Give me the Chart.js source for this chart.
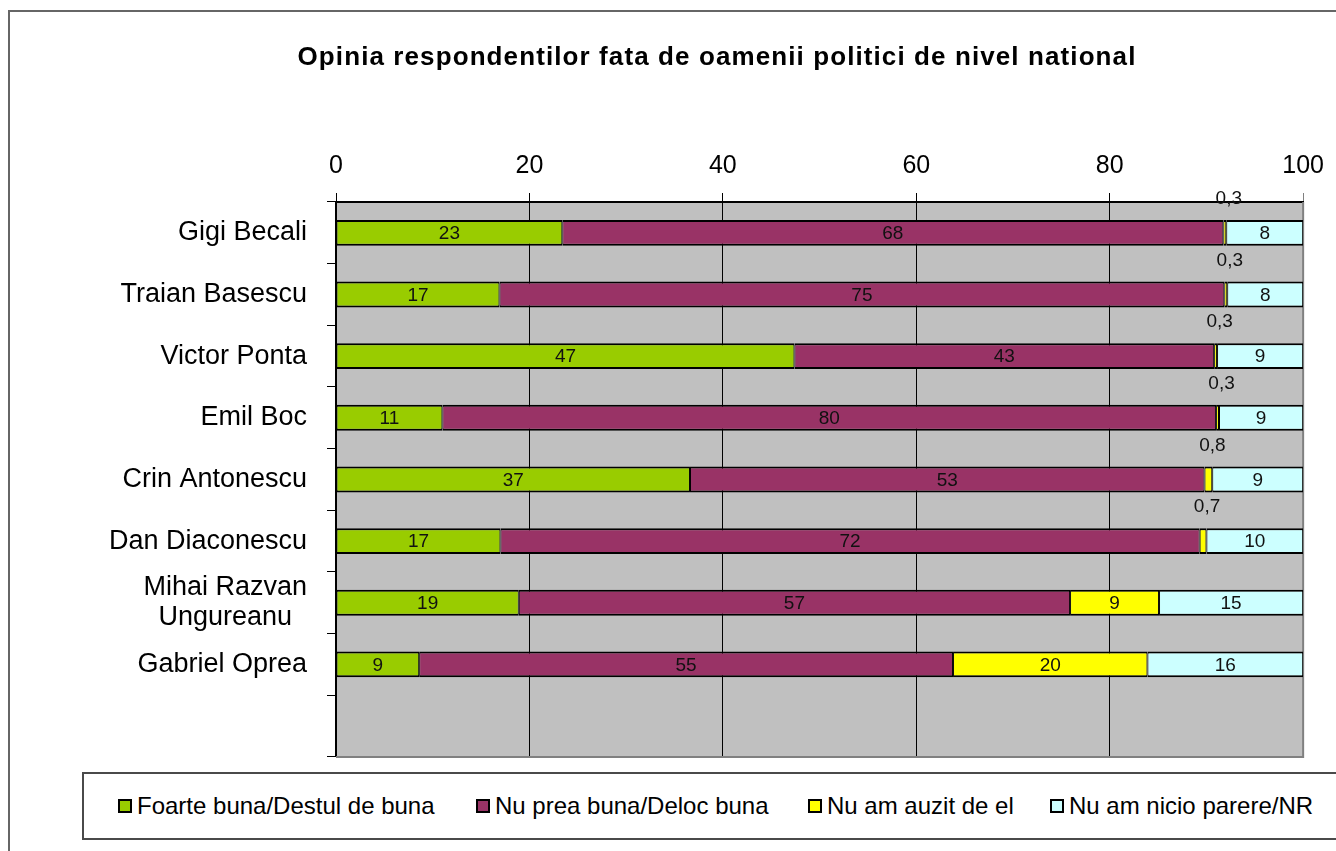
<!DOCTYPE html>
<html><head><meta charset="utf-8">
<script src="https://cdn.jsdelivr.net/npm/chart.js@4"></script>
<style>
body{margin:0;background:#fff;width:1336px;height:851px;overflow:hidden;position:relative;font-family:"Liberation Sans",Arial,sans-serif;}
#frame{position:absolute;left:8px;top:10px;width:1400px;height:900px;border:2px solid #666;box-sizing:border-box;}
#wrap{position:absolute;left:0;top:0;width:1336px;height:792px;}
#legend{position:absolute;left:82px;top:772px;width:1300px;height:68px;border:2px solid #4a4a4a;box-sizing:border-box;background:#fff;}
.li{position:absolute;top:0;height:100%;display:flex;align-items:center;font-size:24px;color:#000;white-space:nowrap;}
.sw{width:14px;height:14px;border:2px solid #000;box-sizing:border-box;margin-right:5px;}
</style></head>
<body>
<div id="frame"></div>
<div id="wrap"><canvas id="c"></canvas></div>
<div id="legend"></div>
<script>
const chartTitle = 'Opinia respondentilor fata de oamenii politici de nivel national';
const categories = ['Gigi Becali','Traian Basescu','Victor Ponta','Emil Boc','Crin Antonescu','Dan Diaconescu',['Mihai Razvan','Ungureanu  '],'Gabriel Oprea',''];
const seriesNames = ['Foarte buna/Destul de buna','Nu prea buna/Deloc buna','Nu am auzit de el','Nu am nicio parere/NR'];
const foarteBuna = [23.4,16.9,47.4,11.0,36.6,17.0,18.9,8.6,null];
const nuPreaBuna = [68.35,74.95,43.4,80.0,53.2,72.3,57.0,55.2,null];
const nuAmAuzit  = [0.3,0.3,0.3,0.3,0.8,0.7,9.2,20.1,null];
const nuAmParere = [7.95,7.85,8.9,8.7,9.4,10.0,14.9,16.1,null];
const xTicks = [0,20,40,60,80,100];
const colors = ['#99CC00','#993366','#FFFF00','#CCFFFF'];
const legendLefts = [34,392,724,966];

const FONT = '"Liberation Sans", Arial, sans-serif';
function fmt(v){ return v < 1 ? v.toFixed(1).replace('.', ',') : String(Math.round(v)); }

const bgPlugin = {
  id:'bg',
  beforeDraw(chart){
    const a = chart.chartArea, ctx = chart.ctx;
    ctx.save(); ctx.fillStyle = '#C0C0C0';
    ctx.fillRect(a.left, a.top, a.right - a.left, a.bottom - a.top);
    ctx.restore();
  },
  beforeDatasetsDraw(chart){
    const a = chart.chartArea, ctx = chart.ctx;
    ctx.save(); ctx.strokeStyle = '#808080'; ctx.lineWidth = 2;
    ctx.beginPath(); ctx.moveTo(a.left, a.bottom); ctx.lineTo(a.right, a.bottom); ctx.lineTo(a.right, a.top); ctx.stroke();
    ctx.restore();
  },
  afterDraw(chart){
    const ctx = chart.ctx; ctx.save();
    ctx.font = 'bold 26px ' + FONT; ctx.fillStyle = '#000';
    ctx.textAlign = 'center'; ctx.textBaseline = 'middle';
    if ('letterSpacing' in ctx) ctx.letterSpacing = '1.1px';
    ctx.fillText(chartTitle, 717, 58);
    ctx.restore();
  }
};
const labelPlugin = {
  id:'vals',
  afterDatasetsDraw(chart){
    const ctx = chart.ctx; ctx.save();
    ctx.font = '19px ' + FONT; ctx.fillStyle = '#111'; ctx.textAlign = 'center'; ctx.textBaseline = 'middle';
    chart.data.datasets.forEach((ds,i)=>{
      const meta = chart.getDatasetMeta(i);
      meta.data.forEach((el,j)=>{
        const v = ds.data[j]; if (v == null) return;
        const p = el.getProps(['x','base','y'], true);
        const cx = (p.x + p.base) / 2;
        if (v < 1) ctx.fillText(fmt(v), cx + 4, p.y - 34);
        else ctx.fillText(fmt(v), cx, p.y + 1);
      });
    });
    ctx.restore();
  }
};

const seriesData = [foarteBuna, nuPreaBuna, nuAmAuzit, nuAmParere];
const chart = new Chart(document.getElementById('c'), {
  type:'bar',
  data:{
    labels: categories,
    datasets: seriesNames.map((n,i)=>({
      label:n, data:seriesData[i], backgroundColor:colors[i], borderColor:'#000',
      borderWidth:{top:2,bottom:2,left:1,right:1}, borderSkipped:false,
      barPercentage:0.42, categoryPercentage:1
    }))
  },
  options:{
    indexAxis:'y', responsive:true, maintainAspectRatio:false, animation:false,
    layout:{padding:{left:0,right:26,top:83,bottom:15}},
    plugins:{ legend:{display:false}, tooltip:{enabled:false}, title:{display:false} },
    scales:{
      x:{position:'top', stacked:true, min:0, max:100,
        afterBuildTicks(s){ s.ticks = xTicks.map(v=>({value:v})); },
        afterFit(s){ s.height = 119; },
        grid:{color:(c)=> c.tick && c.tick.value === 100 ? '#808080' : '#000', lineWidth:1, tickLength:9, drawTicks:true},
        border:{color:'#000', width:2},
        ticks:{color:'#000', font:{family:FONT,size:25,lineHeight:1.2}, padding:12, maxRotation:0}
      },
      y:{stacked:true,
        afterFit(s){ s.width = 336; },
        grid:{display:true, drawOnChartArea:false, offset:true, tickLength:9, color:'#000', lineWidth:1},
        border:{color:'#000', width:2},
        ticks:{color:'#000', font:{family:FONT,size:27,lineHeight:1.12}, padding:20, autoSkip:false}
      }
    }
  },
  plugins:[bgPlugin, labelPlugin]
});

const lg = document.getElementById('legend');
seriesNames.forEach((n,i)=>{
  const d = document.createElement('div'); d.className='li'; d.style.left = legendLefts[i] + 'px';
  const s = document.createElement('span'); s.className='sw'; s.style.background = colors[i];
  const t = document.createElement('span'); t.textContent = n;
  d.appendChild(s); d.appendChild(t); lg.appendChild(d);
});
</script>
</body></html>
